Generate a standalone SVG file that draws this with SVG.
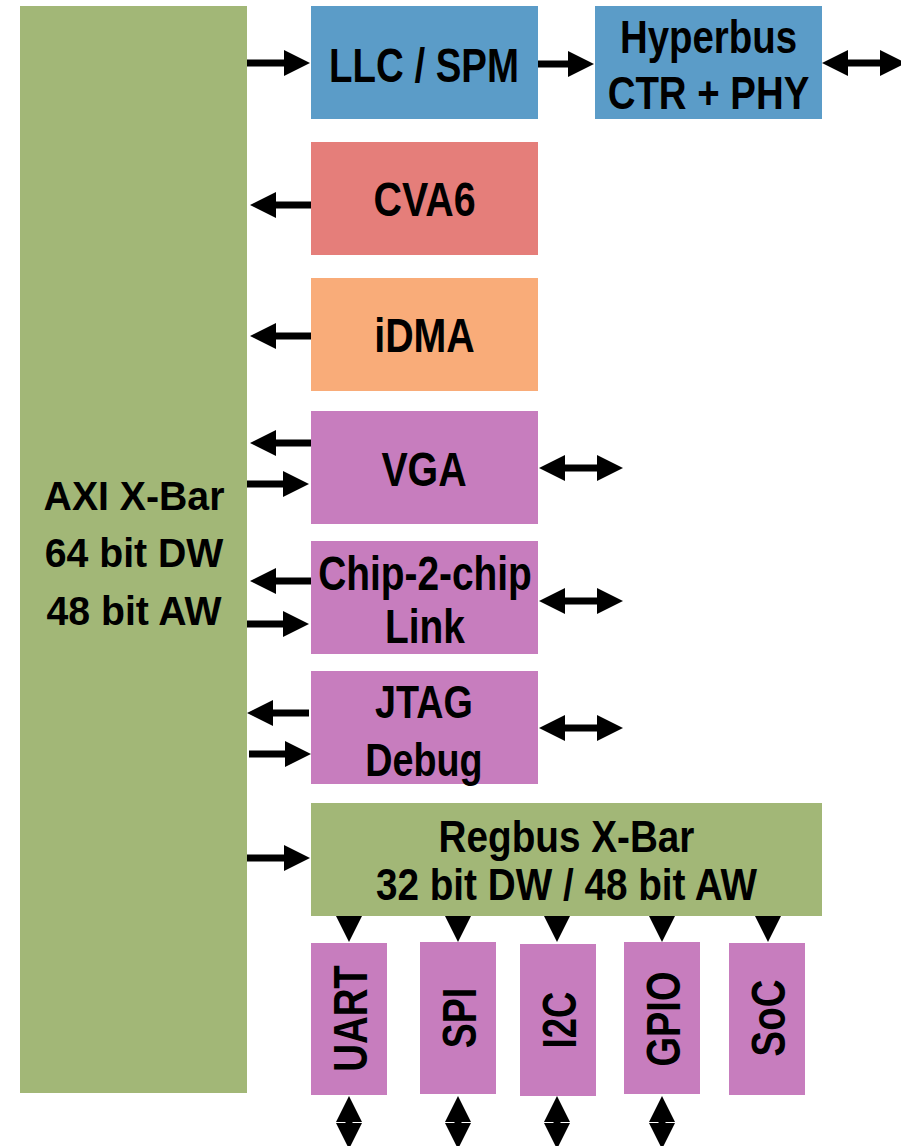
<svg xmlns="http://www.w3.org/2000/svg" width="901" height="1146" viewBox="0 0 901 1146">
<style>
.t{font-family:"Liberation Sans",Arial,sans-serif;font-weight:bold;fill:#000;text-anchor:middle}
.c{stroke:#000;stroke-width:7;fill:none}
.green{fill:#A2B777}
.blue{fill:#5B9CC8}
.red{fill:#E57E7A}
.orange{fill:#F9AC79}
.purple{fill:#C77DBE}
</style>
<defs>
<marker id="ah" viewBox="0 0 26 26" refX="6" refY="13" markerWidth="26" markerHeight="26" markerUnits="userSpaceOnUse" orient="auto-start-reverse">
<path d="M0,0 L26,13 L0,26 Z" fill="#000"/>
</marker>
</defs>
<rect width="901" height="1146" fill="#fff"/>

<g id="axi">
<rect class="green" x="20" y="6" width="227" height="1087"/>
<text class="t" font-size="40" transform="translate(134,510) scale(0.98,1)"><tspan x="0" y="0">AXI X-Bar</tspan><tspan x="0" y="57.5">64 bit DW</tspan><tspan x="0" y="115">48 bit AW</tspan></text>
</g>
<g id="llc">
<rect class="blue" x="311" y="6" width="227" height="113"/>
<text class="t" font-size="48" transform="translate(424,82) scale(0.8,1)">LLC / SPM</text>
</g>
<g id="hyperbus">
<rect class="blue" x="595" y="6" width="227" height="113"/>
<text class="t" font-size="46" transform="translate(708.5,53) scale(0.835,1)"><tspan x="0" y="0">Hyperbus</tspan><tspan x="0" y="56.5">CTR + PHY</tspan></text>
</g>
<g id="cva6">
<rect class="red" x="311" y="142" width="227" height="113"/>
<text class="t" font-size="48" transform="translate(424.5,216) scale(0.82,1)">CVA6</text>
</g>
<g id="idma">
<rect class="orange" x="311" y="278" width="227" height="113"/>
<text class="t" font-size="48" transform="translate(424.5,352) scale(0.82,1)">iDMA</text>
</g>
<g id="vga">
<rect class="purple" x="311" y="411" width="227" height="113"/>
<text class="t" font-size="48" transform="translate(424,486) scale(0.82,1)">VGA</text>
</g>
<g id="c2c">
<rect class="purple" x="311" y="541" width="227" height="113"/>
<text class="t" font-size="48" transform="translate(425,590) scale(0.81,1)"><tspan x="0" y="0">Chip-2-chip</tspan><tspan x="0" y="53">Link</tspan></text>
</g>
<g id="jtag">
<rect class="purple" x="311" y="671" width="227" height="113"/>
<text class="t" font-size="46" transform="translate(424,718) scale(0.82,1)"><tspan x="0" y="0">JTAG</tspan><tspan x="0" y="58">Debug</tspan></text>
</g>
<g id="regbus">
<rect class="green" x="311" y="803" width="511" height="113"/>
<text class="t" font-size="45" transform="translate(566.5,852) scale(0.86,1)"><tspan x="0" y="0">Regbus X-Bar</tspan><tspan x="0" y="48">32 bit DW / 48 bit AW</tspan></text>
</g>
<g id="uart">
<rect class="purple" x="311" y="943" width="76" height="152"/>
<text class="t" font-size="48" transform="translate(367,1018.5) rotate(-90) scale(0.8,1)">UART</text>
</g>
<g id="spi">
<rect class="purple" x="420" y="942" width="76" height="152"/>
<text class="t" font-size="48" transform="translate(476,1018) rotate(-90) scale(0.78,1)">SPI</text>
</g>
<g id="i2c">
<rect class="purple" x="520" y="944" width="76" height="152"/>
<text class="t" font-size="48" transform="translate(576,1020) rotate(-90) scale(0.76,1)">I2C</text>
</g>
<g id="gpio">
<rect class="purple" x="624" y="942" width="76" height="152"/>
<text class="t" font-size="48" transform="translate(680,1019) rotate(-90) scale(0.79,1)">GPIO</text>
</g>
<g id="soc">
<rect class="purple" x="729" y="943" width="76" height="152"/>
<text class="t" font-size="48" transform="translate(785,1018) rotate(-90) scale(0.8,1)">SoC</text>
</g>

<g id="connectors">
<line class="c" x1="247" y1="63" x2="290" y2="63" marker-end="url(#ah)"/>
<line class="c" x1="538" y1="64" x2="574" y2="64" marker-end="url(#ah)"/>
<line class="c" x1="842" y1="63" x2="886" y2="63" marker-start="url(#ah)" marker-end="url(#ah)"/>
<line class="c" x1="311" y1="205" x2="270" y2="205" marker-end="url(#ah)"/>
<line class="c" x1="311" y1="336" x2="270" y2="336" marker-end="url(#ah)"/>
<line class="c" x1="311" y1="443" x2="270" y2="443" marker-end="url(#ah)"/>
<line class="c" x1="247" y1="484" x2="289" y2="484" marker-end="url(#ah)"/>
<line class="c" x1="559" y1="468" x2="603" y2="468" marker-start="url(#ah)" marker-end="url(#ah)"/>
<line class="c" x1="311" y1="581" x2="270" y2="581" marker-end="url(#ah)"/>
<line class="c" x1="247" y1="624" x2="289" y2="624" marker-end="url(#ah)"/>
<line class="c" x1="559" y1="601" x2="603" y2="601" marker-start="url(#ah)" marker-end="url(#ah)"/>
<line class="c" x1="309" y1="713" x2="267" y2="713" marker-end="url(#ah)"/>
<line class="c" x1="249" y1="754" x2="291" y2="754" marker-end="url(#ah)"/>
<line class="c" x1="559" y1="728" x2="603" y2="728" marker-start="url(#ah)" marker-end="url(#ah)"/>
<line class="c" x1="247" y1="858" x2="290" y2="858" marker-end="url(#ah)"/>
<line class="c" x1="349" y1="916" x2="349" y2="922" marker-end="url(#ah)"/>
<line class="c" x1="458" y1="916" x2="458" y2="922" marker-end="url(#ah)"/>
<line class="c" x1="557" y1="916" x2="557" y2="922" marker-end="url(#ah)"/>
<line class="c" x1="662" y1="916" x2="662" y2="922" marker-end="url(#ah)"/>
<line class="c" x1="768" y1="916" x2="768" y2="922" marker-end="url(#ah)"/>
<line class="c" x1="349" y1="1116" x2="349" y2="1129" marker-start="url(#ah)" marker-end="url(#ah)"/>
<line class="c" x1="458" y1="1116" x2="458" y2="1129" marker-start="url(#ah)" marker-end="url(#ah)"/>
<line class="c" x1="557" y1="1116" x2="557" y2="1129" marker-start="url(#ah)" marker-end="url(#ah)"/>
<line class="c" x1="662" y1="1116" x2="662" y2="1129" marker-start="url(#ah)" marker-end="url(#ah)"/>
</g>
</svg>
